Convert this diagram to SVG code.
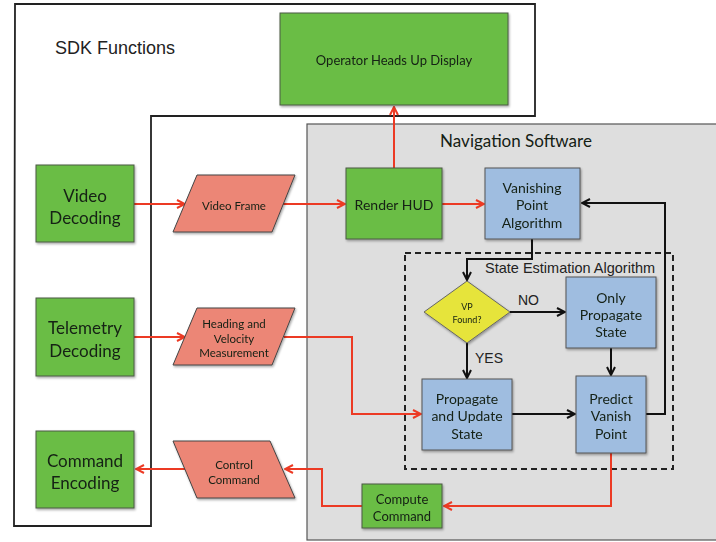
<svg xmlns="http://www.w3.org/2000/svg" width="716" height="542" viewBox="0 0 716 542">
<defs>
<style>
.g{fill:#6bbd45;stroke:#4a5a44;stroke-width:1}
.b{fill:#9fbde0;stroke:#555;stroke-width:1}
.p{fill:#ec8676;stroke:#444;stroke-width:1}
.y{fill:#e6e43a;stroke:#666;stroke-width:1}
.t{font-family:Lato,"Open Sans",sans-serif;fill:#142014;text-anchor:middle;dominant-baseline:central}
.h{font-family:"Liberation Sans",Arial,sans-serif;fill:#222}
.r{fill:none;stroke:#ec3a24;stroke-width:2}
.k{fill:none;stroke:#111;stroke-width:2}
</style>
<marker id="ar" viewBox="0 0 10 10" refX="9" refY="5" markerWidth="10" markerHeight="10" markerUnits="userSpaceOnUse" orient="auto">
<path d="M1,1 L9,5 L1,9" fill="none" stroke="#ec3a24" stroke-width="2"/>
</marker>
<marker id="ak" viewBox="0 0 10 10" refX="9" refY="5" markerWidth="10" markerHeight="10" markerUnits="userSpaceOnUse" orient="auto">
<path d="M1,1 L9,5 L1,9" fill="none" stroke="#111" stroke-width="2"/>
</marker>
<filter id="sh" x="-10%" y="-10%" width="130%" height="130%"><feDropShadow dx="1" dy="1.5" stdDeviation="1" flood-color="#000" flood-opacity="0.35"/></filter>
</defs>
<rect width="716" height="542" fill="#fff"/>
<g id="sdk">
<path d="M15,4 H535 V116 H151 V526 H14 Z" fill="none" stroke="#222" stroke-width="1.8"/>
<text class="h" x="55" y="54" font-size="18">SDK Functions</text>
</g>
<g id="nav">
<rect x="307" y="124" width="420" height="416" fill="#dedede" stroke="#555" stroke-width="1.2"/>
<text class="t" x="516" y="140" font-size="17">Navigation Software</text>
</g>
<g id="sea">
<rect x="405" y="253" width="268" height="216" fill="none" stroke="#222" stroke-width="2" stroke-dasharray="6,4"/>
<text class="h" x="485" y="273" font-size="14.5">State Estimation Algorithm</text>
</g>
<g id="connectors">
<path class="r" d="M394,168 V107" marker-end="url(#ar)"/>
<path class="r" d="M134,204 H185" marker-end="url(#ar)"/>
<path class="r" d="M283,204 H345" marker-end="url(#ar)"/>
<path class="r" d="M442,204 H484" marker-end="url(#ar)"/>
<path class="r" d="M134,337 H185" marker-end="url(#ar)"/>
<path class="r" d="M284,337 H352 V414 H421" marker-end="url(#ar)"/>
<path class="r" d="M611,453 V506 H444" marker-end="url(#ar)"/>
<path class="r" d="M362,506 H322 V469 H285" marker-end="url(#ar)"/>
<path class="r" d="M185,469 H136" marker-end="url(#ar)"/>
<path class="k" d="M532,239 V259 H467 V280" marker-end="url(#ak)"/>
<path class="k" d="M510,312 H565" marker-end="url(#ak)"/>
<path class="k" d="M467,343 V378" marker-end="url(#ak)"/>
<path class="k" d="M611,348 V375" marker-end="url(#ak)"/>
<path class="k" d="M512,414 H575" marker-end="url(#ak)"/>
<path class="k" d="M646,414 H665 V203 H582" marker-end="url(#ak)"/>
<text class="h" x="518" y="305" font-size="14">NO</text>
<text class="h" x="475" y="363" font-size="14">YES</text>
</g>
<g id="hud" filter="url(#sh)">
<rect class="g" x="280" y="13" width="228" height="92"/>
<text class="t" x="394" y="60" font-size="13">Operator Heads Up Display</text>
</g>
<g id="video" filter="url(#sh)">
<rect class="g" x="36" y="165" width="98" height="77"/>
<text class="t" x="85" y="195" font-size="17">Video</text>
<text class="t" x="85" y="217" font-size="17">Decoding</text>
</g>
<g id="telemetry" filter="url(#sh)">
<rect class="g" x="36" y="298" width="98" height="78"/>
<text class="t" x="85" y="327" font-size="17">Telemetry</text>
<text class="t" x="85" y="350" font-size="17">Decoding</text>
</g>
<g id="cmdenc" filter="url(#sh)">
<rect class="g" x="36" y="431" width="98" height="77"/>
<text class="t" x="85" y="460" font-size="17">Command</text>
<text class="t" x="85" y="482" font-size="17">Encoding</text>
</g>
<g id="vframe" filter="url(#sh)">
<polygon class="p" points="197,175 295,175 272,232 173,232"/>
<text class="t" x="234" y="205" font-size="11.5">Video Frame</text>
</g>
<g id="heading" filter="url(#sh)">
<polygon class="p" points="197,308 295,308 272,365 173,365"/>
<text class="t" x="234" y="323" font-size="11.5">Heading and</text>
<text class="t" x="234" y="338" font-size="11.5">Velocity</text>
<text class="t" x="234" y="352" font-size="11.5">Measurement</text>
</g>
<g id="control" filter="url(#sh)">
<polygon class="p" points="173,441 270,441 295,498 197,498"/>
<text class="t" x="234" y="464" font-size="11.5">Control</text>
<text class="t" x="234" y="479" font-size="11.5">Command</text>
</g>
<g id="render" filter="url(#sh)">
<rect class="g" x="346" y="168" width="96" height="71"/>
<text class="t" x="394" y="204" font-size="14">Render HUD</text>
</g>
<g id="vpa" filter="url(#sh)">
<rect class="b" x="485" y="168" width="95" height="71"/>
<text class="t" x="532" y="187" font-size="14">Vanishing</text>
<text class="t" x="532" y="204" font-size="14">Point</text>
<text class="t" x="532" y="222" font-size="14">Algorithm</text>
</g>
<g id="vpfound" filter="url(#sh)">
<polygon class="y" points="467,281 510,312 467,343 424,312"/>
<text class="t" x="467" y="306" font-size="9">VP</text>
<text class="t" x="467" y="319" font-size="9">Found?</text>
</g>
<g id="only" filter="url(#sh)">
<rect class="b" x="566" y="277" width="90" height="71"/>
<text class="t" x="611" y="297" font-size="14">Only</text>
<text class="t" x="611" y="314" font-size="14">Propagate</text>
<text class="t" x="611" y="331" font-size="14">State</text>
</g>
<g id="pu" filter="url(#sh)">
<rect class="b" x="422" y="379" width="90" height="71"/>
<text class="t" x="467" y="398" font-size="14">Propagate</text>
<text class="t" x="467" y="415" font-size="14">and Update</text>
<text class="t" x="467" y="433" font-size="14">State</text>
</g>
<g id="predict" filter="url(#sh)">
<rect class="b" x="576" y="376" width="70" height="77"/>
<text class="t" x="611" y="398" font-size="14">Predict</text>
<text class="t" x="611" y="415" font-size="14">Vanish</text>
<text class="t" x="611" y="433" font-size="14">Point</text>
</g>
<g id="compute" filter="url(#sh)">
<rect class="g" x="362" y="484" width="80" height="44"/>
<text class="t" x="402" y="499" font-size="13">Compute</text>
<text class="t" x="402" y="516" font-size="13">Command</text>
</g>
</svg>
